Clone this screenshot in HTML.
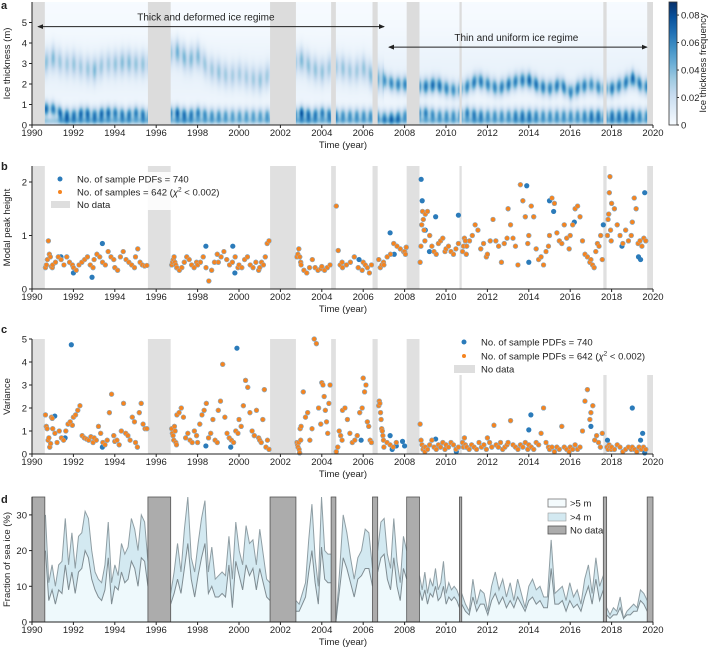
<!DOCTYPE html>
<html><head><meta charset="utf-8">
<style>
html,body{margin:0;padding:0;background:#fff;}
#wrap{position:relative;width:713px;height:650px;overflow:hidden;font-family:"Liberation Sans",Arial,sans-serif;}
#heat{position:absolute;left:32px;top:2px;}
svg{position:absolute;left:0;top:0;}
text{font-family:"Liberation Sans",Arial,sans-serif;fill:#222;}
</style></head>
<body>
<div id="wrap">
<canvas id="heat" width="621" height="123"></canvas>
<svg id="svg" width="713" height="650" xmlns="http://www.w3.org/2000/svg"></svg>
</div>
<script>
// ---------- data ----------
const gapStart = [1990.0,1995.6,2001.5,2004.45,2006.45,2008.1,2010.65,2017.6,2019.72];
const gapEnd   = [1990.62,1996.7,2002.75,2004.68,2006.7,2008.72,2010.76,2017.76,2020.0];
// panel a (half-year resolution from 1990.0)
const ridgeH = [3.0,3.0,3.3,3.0,3.0,2.8,2.7,3.0,3.0,3.1,3.0,3.0,3.0,3.5,3.6,3.2,3.4,2.8,2.6,2.4,2.5,2.3,2.2,2.5,2.5,3.0,3.2,2.8,2.6,2.9,2.8,2.6,2.8,2.3,2.2,2.0,2.0,1.9,1.9,2.0,1.8,1.7,1.9,2.2,2.0,1.8,2.0,2.2,2.2,1.9,1.8,2.0,1.6,1.9,2.0,1.8,1.8,2.0,2.3,1.9];
const ridgeI = [0.03,0.03,0.035,0.025,0.03,0.025,0.035,0.025,0.03,0.035,0.03,0.03,0.025,0.025,0.04,0.035,0.035,0.025,0.03,0.025,0.025,0.025,0.03,0.025,0.025,0.03,0.035,0.03,0.03,0.025,0.03,0.025,0.03,0.035,0.05,0.055,0.055,0.055,0.06,0.065,0.055,0.05,0.055,0.06,0.055,0.055,0.06,0.055,0.065,0.06,0.055,0.06,0.055,0.06,0.05,0.055,0.06,0.055,0.065,0.055];
const lowH = [0.7,0.8,0.8,0.5,0.5,0.6,0.5,0.6,0.6,0.5,0.6,0.5,0.6,0.6,0.6,0.5,0.6,0.5,0.5,0.5,0.5,0.5,0.5,0.5,0.5,0.5,0.6,0.5,0.6,0.5,0.5,0.5,0.5,0.5,0.4,0.4,0.5,0.6,0.6,0.5,0.5,0.5,0.6,0.5,0.5,0.5,0.5,0.5,0.5,0.5,0.5,0.5,0.5,0.5,0.5,0.5,0.5,0.5,0.5,0.5];
const lowI = [0.06,0.07,0.06,0.07,0.06,0.07,0.06,0.07,0.06,0.06,0.06,0.06,0.05,0.05,0.07,0.06,0.06,0.05,0.05,0.045,0.045,0.045,0.045,0.05,0.05,0.05,0.075,0.06,0.06,0.06,0.05,0.05,0.05,0.05,0.05,0.06,0.05,0.06,0.06,0.05,0.05,0.05,0.06,0.06,0.05,0.05,0.05,0.06,0.06,0.05,0.05,0.05,0.05,0.05,0.06,0.06,0.06,0.06,0.06,0.05];
const cbTicks = [0,0.02,0.04,0.06,0.08];
const yearTicks = [1990,1992,1994,1996,1998,2000,2002,2004,2006,2008,2010,2012,2014,2016,2018,2020];

// panel b: orange segments
const bStart = [1990.65,1991.0,1992.0,1993.0,1994.0,1995.0,1996.75,1997.0,1998.0,1999.0,2000.0,2001.0,2002.8,2003.0,2004.0,2004.7,2005.0,2006.0,2006.75,2007.0,2008.0,2008.75,2009.0,2010.0,2010.8,2011.0,2012.0,2013.0,2014.0,2015.0,2016.0,2017.0,2017.8,2018.0,2019.0];
const bEnd   = [1990.98,1991.95,1992.95,1993.95,1994.95,1995.55,1996.98,1997.95,1998.95,1999.95,2000.95,2001.45,2002.98,2003.95,2004.4,2004.98,2005.95,2006.4,2006.98,2007.95,2008.08,2008.98,2009.95,2010.6,2010.98,2011.95,2012.95,2013.95,2014.95,2015.95,2016.95,2017.55,2017.98,2018.95,2019.65];
const bVals = [
[0.4,0.45,0.55,0.9,0.65,0.6,0.42,0.4],[0.45,0.5,0.6,0.55,0.45,0.6,0.5,0.45],[0.4,0.35,0.45,0.5,0.55,0.6,0.45,0.4],
[0.55,0.65,0.6,0.5,0.45,0.7,0.6,0.55],[0.4,0.35,0.6,0.7,0.55,0.5,0.45,0.4],[0.6,0.75,0.5,0.45,0.43,0.44],
[0.45,0.5,0.55,0.6,0.5,0.45,0.4],[0.4,0.35,0.4,0.5,0.6,0.55,0.45,0.4,0.5],[0.45,0.5,0.6,0.4,0.15,0.35,0.5,0.65],
[0.5,0.6,0.7,0.55,0.45,0.5,0.6,0.4],[0.45,0.4,0.55,0.6,0.45,0.4,0.5,0.35],[0.4,0.5,0.45,0.6,0.85,0.9],
[0.6,0.65,0.75,0.6,0.5],[0.45,0.35,0.3,0.4,0.55,0.4,0.35,0.38],[0.42,0.35,0.4,0.45],[1.55,0.72,0.45,0.5],
[0.4,0.45,0.5,0.6,0.4,0.35],[0.5,0.45,0.4,0.3,0.45],[0.55,0.4,0.45,0.5],[0.45,0.6,0.65,0.85,0.8,0.75,0.7],
[0.7,0.65,0.78],[0.5,0.8,1.2,1.45,1.3,1.1,0.9],[1.4,1.45,1.0,0.8,0.7,0.65,0.85,0.9,0.95,0.7],[0.75,0.8,0.7,0.65,0.75,0.85],
[0.7,0.8,0.95,0.9,0.65],[0.8,0.9,1.0,1.2,1.1,0.75,0.85,0.6],[0.65,0.9,1.3,0.9,0.8,0.5,0.85,0.95],
[1.5,1.2,0.95,0.8,0.45,1.95,1.65,1.35,0.85],[1.0,1.55,1.35,0.75,0.55,0.6,0.45,0.7,0.8],[1.0,1.7,1.6,1.05,0.9,0.85,1.2,0.95,0.75],
[1.0,1.2,1.5,1.55,1.35,0.9,0.65,0.6,0.5],[0.55,0.45,0.4,0.7,0.85,0.8,1.0,0.55],[1.0,1.3,1.4,1.8,2.1,1.1,0.9],
[1.6,1.5,1.2,1.0,0.85,1.1,0.9,1.0],[1.25,1.7,1.5,0.85,0.9,0.8,0.95,0.9]];
const bBlueT = [1991.4,1992.0,1992.9,1993.4,1998.4,1999.7,1999.8,2007.3,2007.5,2008.8,2008.85,2009.0,2009.5,2010.6,2013.9,2014.0,2015.0,2015.2,2016.2,2017.6,2018.5,2019.3,2019.4,2019.6,2005.8,2009.2];
const bBlueV = [0.6,0.3,0.22,0.85,0.8,0.8,0.3,1.05,0.65,2.05,1.65,1.1,1.35,1.38,1.93,0.5,1.65,1.45,1.25,1.2,0.8,0.6,0.55,1.8,0.55,0.7];

// panel c
const cStart = [1990.65,1991.0,1992.0,1993.0,1994.0,1995.0,1996.75,1997.0,1998.0,1999.0,2000.0,2001.0,2002.8,2003.0,2004.0,2004.7,2005.0,2006.0,2006.75,2007.0,2008.75,2009.0,2010.0,2010.8,2011.0,2012.0,2013.0,2014.0,2015.0,2016.0,2017.0,2017.78,2018.0,2019.0];
const cEnd   = [1990.98,1991.95,1992.95,1993.95,1994.95,1995.55,1996.98,1997.95,1998.95,1999.95,2000.95,2001.45,2002.98,2003.95,2004.4,2004.98,2005.95,2006.4,2006.98,2007.6,2008.98,2009.95,2010.6,2010.98,2011.95,2012.95,2013.95,2014.95,2015.95,2016.95,2017.55,2017.98,2018.95,2019.65];
const cVals = [
[1.7,1.2,1.1,0.6,0.7,0.3,0.45,1.6,1.55],[1.1,0.9,0.5,1.0,0.7,0.6,1.0,1.3,1.4,1.25],[1.6,1.7,1.9,2.1,0.8,0.7,0.65,0.6,0.75,0.5],
[0.7,0.6,1.2,0.9,0.5,0.4,0.6,1.8,2.6,0.8],[0.55,0.6,0.4,1.0,2.2,0.9,0.8,0.6,1.6,1.4],[0.5,0.3,1.8,2.2,1.3,1.1,1.1],
[1.1,0.9,0.8,0.6,1.2,1.0,0.5,0.4],[1.7,1.8,2.0,1.6,0.7,0.9,0.6,0.5,1.0,0.8],[0.5,1.3,1.7,1.9,2.2,0.7,0.9,1.5,0.6,0.5],
[1.9,2.3,3.9,1.6,0.9,0.7,0.6,0.5,1.0,0.9],[1.5,1.2,2.1,3.2,2.9,1.8,1.0,0.8,1.9,0.7],[0.6,0.5,1.5,2.8,0.3,0.6,0.2],
[0.5,0.4,0.3,0.5,0.2,0.05,1.1,0.6],[1.2,2.7,1.6,1.8,0.6,1.1,5.0,4.8,2.0,1.3],[3.1,3.0,2.5,1.9,1.4,0.9,2.2,3.0],
[0.1,0.3,1.0,0.8,0.6],[1.9,2.0,1.5,0.9,0.5,0.6,0.8,1.8,2.0],[3.3,2.7,3.0,1.4,1.2,0.6,0.5],
[2.1,2.3,2.2,1.8,1.5,1.1,1.0,0.8,0.6],[0.3,0.5,0.4,0.3,0.5],[1.3,0.6,0.4,0.2,0.3,0.1],
[0.3,0.2,0.4,0.6,0.3,0.2,0.4,0.3,0.5,0.2],[0.4,0.3,0.5,0.4,0.2,0.3],[0.5,0.3,0.7,0.4,0.3],
[0.3,0.2,0.4,0.3,0.2,0.5,0.3,0.4,0.2],[0.7,0.5,0.3,1.25,0.4,0.3,0.5,0.2,0.3,0.4],[0.5,1.45,0.4,0.3,0.2,0.4,0.3,0.5,0.2],
[0.4,0.3,0.2,0.5,0.4,0.9,2.0,0.5,0.3],[0.2,0.3,0.1,0.3,0.2,1.2,0.3,0.2,0.1],[0.3,0.2,0.4,0.2,0.3,1.0,2.3,2.8,1.5],
[1.8,2.1,0.6,0.8,0.5,0.3,0.9],[0.3,0.2,0.4,0.3,0.2],[0.3,0.2,0.4,0.3,0.1,0.2,0.3,0.2],[0.3,0.2,0.1,0.3,0.2,0.3,0.2]];
const cBlueT = [1991.9,1999.9,1991.1,1991.6,1993.4,1998.4,1999.6,2007.3,2007.4,2007.6,2007.9,2008.0,2009.5,2010.5,2014.0,2014.1,2017.0,2017.8,2019.0,2019.4,2019.5,2019.6,2005.9];
const cBlueV = [4.75,4.6,1.65,0.7,0.3,0.35,0.3,0.8,0.2,0.35,0.55,0.35,0.65,0.1,1.05,1.7,1.2,0.6,2.0,0.6,0.9,0.05,0.6];

// panel d
const dStart = [1990.65,1996.7,2002.75,2004.68,2006.7,2008.72,2010.76,2017.76];
const dEnd   = [1995.6,2001.5,2004.45,2006.45,2008.1,2010.65,2017.6,2019.72];
const dUpper = [
[30,11,16,10,16,17,29,16,25,15,24,25,31,29,20,14,12,11,16,28,11,16,13,22,19,21,29,26,20,30,28,17],
[8,14,22,14,26,35,18,14,22,29,34,14,21,12,13,14,13,24,12,28,20,16,27,22,23,16,26,19,12,11],
[6,5,8,11,23,33,18,10,35,20,19,19],
[0,14,30,25,18,12,18,20,26,25,15],
[20,28,29,19,15,29,17,11,24,20],
[13,9,14,8,12,10,15,9,11,17,8,11,9,10,9,7],
[8,5,3,12,5,9,8,3,10,14,9,12,7,11,6,12,8,4,10,12,9,10,7,7,23,8,9,10,6,11,7,9,5,12,16,8,18,10,13],
[4,2,4,3,7,1,3,4,5,4,9,8,6]];
const dLower = [
[20,6,9,5,9,8,16,9,14,8,14,15,20,18,12,9,7,6,9,18,5,10,9,14,11,12,17,15,10,18,17,10],
[5,8,12,8,15,22,12,7,13,18,22,8,10,7,7,8,7,16,4,17,13,9,16,13,15,9,15,11,7,6],
[3,3,5,7,14,20,11,5,21,12,11,11],
[0,9,18,15,11,7,12,13,15,15,10],
[14,18,19,12,9,18,10,6,15,12],
[9,6,9,5,8,7,10,6,7,10,5,7,6,7,6,4],
[5,3,2,7,3,5,5,2,6,8,5,7,4,6,4,7,5,3,6,7,5,6,4,4,15,5,5,6,3,6,4,5,3,7,10,5,12,6,9],
[2,1,2,2,4,1,2,2,3,3,6,5,3]];

// ---------- scales ----------
const X = t => 32 + (t-1990)*621/30;
const Ya = v => 125 - v*20.5;
const Yb = v => 289 - v*53.5;
const Yc = v => 454 - v*23;
const Yd = v => 622 - v*3.57;
const NS = 'http://www.w3.org/2000/svg';
const svg = document.getElementById('svg');
function mk(tag, attrs, parent){
  const e = document.createElementNS(NS, tag);
  for (const k in attrs) e.setAttribute(k, attrs[k]);
  (parent||svg).appendChild(e); return e;
}
function txt(s, x, y, size, anchor, parent){
  const e = mk('text', {x:x, y:y, 'font-size':size, 'text-anchor':anchor||'start'}, parent);
  e.textContent = s; return e;
}

// ---------- heatmap ----------
const stops = [[247,251,255],[222,235,247],[198,219,239],[158,202,225],[107,174,214],[66,146,198],[33,113,181],[8,81,156],[8,48,107]];
function cmap(v){
  let t = Math.max(0, Math.min(1, v/0.09))*(stops.length-1);
  const i = Math.min(stops.length-2, Math.floor(t)), f = t-i;
  return stops[i].map((c,k)=>Math.round(c+(stops[i+1][k]-c)*f));
}
(function(){
  const cv = document.getElementById('heat'), ctx = cv.getContext('2d');
  const img = ctx.createImageData(621,123);
  for (let px=0; px<621; px++){
    const t = px*30/621;
    const fi = t*2; let i0 = Math.floor(fi), f = fi-i0; const i1 = Math.min(59,i0+1); i0=Math.min(59,i0);
    const rh = ridgeH[i0]*(1-f)+ridgeH[i1]*f, ri = ridgeI[i0]*(1-f)+ridgeI[i1]*f;
    const lh = lowH[i0]*(1-f)+lowH[i1]*f, li = lowI[i0]*(1-f)+lowI[i1]*f;
    const flick = 0.75 + 0.25*Math.cos(t*2*Math.PI*3);
    const rs = (1990+t) < 2007 ? 0.6 : 0.4;
    for (let py=0; py<123; py++){
      const h = (123-py)/20.5;
      let v = 0.006*Math.exp(-Math.pow((h-2.5)/2,2))
        + ri*flick*Math.exp(-Math.pow((h-rh)/rs,2))
        + li*flick*Math.exp(-Math.pow((h-lh)/0.35,2))
        + 0.45*li*Math.exp(-Math.pow((h-0.2)/0.2,2));
      const c = cmap(v), o=(py*621+px)*4;
      img.data[o]=c[0]; img.data[o+1]=c[1]; img.data[o+2]=c[2]; img.data[o+3]=255;
    }
  }
  ctx.putImageData(img,0,0);
})();

// ---------- common axis helpers ----------
function xAxis(y, name){
  const g = mk('g', {});
  
  
  mk('line', {x1:32, x2:653, y1:y, y2:y, stroke:'#222', 'stroke-width':1}, g);
  yearTicks.forEach(yr=>{
    mk('line', {x1:X(yr), x2:X(yr), y1:y, y2:y+3, stroke:'#222'}, g);
    txt(String(yr), X(yr), y+11, 9.5, 'middle', g);
  });
  txt('Time (year)', 343, y+23, 9.5, 'middle', g);
}
function yAxis(top, bottom, ticks, fy, title, name){
  const g = mk('g', {});
  
  
  mk('line', {x1:32, x2:32, y1:top, y2:bottom, stroke:'#222'}, g);
  ticks.forEach(v=>{
    mk('line', {x1:29, x2:32, y1:fy(v), y2:fy(v), stroke:'#222'}, g);
    txt(String(v), 27, fy(v)+3.5, 9.5, 'end', g);
  });
  const cy = (top+bottom)/2;
  const t = txt(title, 10, cy, 9.5, 'middle', g);
  t.setAttribute('transform', 'rotate(-90 10 '+cy+')');
}
function gaps(top, bottom, fill, stroke, name){
  gapStart.forEach((s,i)=>{
    const r = mk('rect', {x:X(s), y:top, width:X(gapEnd[i])-X(s), height:bottom-top, fill:fill, stroke:stroke||'none', 'stroke-width':0.8});
    
    
  });
}
function panelLabel(s, y){
  const t = txt(s, 1, y, 11, 'start');
  t.setAttribute('font-weight', 'bold');
  
  
}

// ---------- panel a ----------
gaps(2, 125, '#dcdcdc', null, 'no-data-band-a');
xAxis(125, 'x-axis-a');
yAxis(2, 125, [0,1,2,3,4,5], Ya, 'Ice thickness (m)', 'y-axis-a');
panelLabel('a', 9);
mk('defs', {}).innerHTML = '<marker id="ah" markerWidth="6" markerHeight="6" refX="5" refY="3" orient="auto-start-reverse"><path d="M0,0.5 L6,3 L0,5.5 z" fill="#222"/></marker>';
let ar = mk('line', {x1:X(1990.3), x2:X(2007.0), y1:Ya(4.8), y2:Ya(4.8), stroke:'#222', 'stroke-width':1, 'marker-start':'url(#ah)', 'marker-end':'url(#ah)'});
 
let tt = txt('Thick and deformed ice regime', X(1998.4), Ya(4.8)-6, 10, 'middle');
 
ar = mk('line', {x1:X(2007.25), x2:X(2019.7), y1:Ya(3.8), y2:Ya(3.8), stroke:'#222', 'stroke-width':1, 'marker-start':'url(#ah)', 'marker-end':'url(#ah)'});
 
tt = txt('Thin and uniform ice regime', X(2013.4), Ya(3.8)-6, 10, 'middle');
 
// colorbar
(function(){
  const g = mk('g', {});
  
  
  const lg = mk('linearGradient', {id:'cbg', x1:0, y1:1, x2:0, y2:0}, mk('defs',{},g));
  stops.forEach((c,i)=>mk('stop', {offset:(i/(stops.length-1)), 'stop-color':'rgb('+c.join(',')+')'}, lg));
  mk('rect', {x:669, y:2, width:8, height:123, fill:'url(#cbg)', stroke:'#333', 'stroke-width':0.8}, g);
  const cy = v => 125 - v/0.0895*123;
  cbTicks.forEach(v=>{
    mk('line', {x1:677, x2:679, y1:cy(v), y2:cy(v), stroke:'#333'}, g);
    txt(String(v), 681, cy(v)+3.5, 9.5, 'start', g);
  });
  const t = txt('Ice thickness frequency', 706, 63, 9.5, 'middle', g);
  t.setAttribute('transform', 'rotate(-90 706 63)');
})();

// ---------- scatter helper ----------
function scatter(starts, ends, vals, blueT, blueV, fy, top, nm){
  const g = mk('g', {});
  
  
  const clipY = v => Math.max(top, fy(v));
  starts.forEach((s,i)=>{
    const n = vals[i].length;
    vals[i].forEach((v,j)=>{
      const t = s + (n>1 ? (ends[i]-s)*j/(n-1) : 0);
      const c = mk('circle', {cx:X(t), cy:clipY(v), r:2.6, fill:'#2b7bba'}, g);
      
      
    });
  });
  blueT.forEach((t,i)=>{
    const c = mk('circle', {cx:X(t), cy:clipY(blueV[i]), r:2.6, fill:'#2b7bba'}, g);
    
    
  });
  starts.forEach((s,i)=>{
    const n = vals[i].length;
    vals[i].forEach((v,j)=>{
      const t = s + (n>1 ? (ends[i]-s)*j/(n-1) : 0);
      const c = mk('circle', {cx:X(t), cy:clipY(v), r:2.3, fill:'#f5841f', stroke:'#9db4c6', 'stroke-width':0.5}, g);
      
      
    });
  });
}

// ---------- panel b ----------
gaps(166, 289, '#e0e0e0', null, 'no-data-band-b');
scatter(bStart, bEnd, bVals, bBlueT, bBlueV, Yb, 166, 'panel-b');
xAxis(289, 'x-axis-b');
yAxis(166, 289, [0,1,2], Yb, 'Modal peak height', 'y-axis-b');
panelLabel('b', 170);
(function(){
  const g = mk('g', {});
  
  
  mk('rect', {x:48, y:172, width:132, height:38, fill:'#fff', opacity:0.85}, g);
  mk('circle', {cx:60, cy:179, r:2.5, fill:'#2b7bba'}, g);
  txt('No. of sample PDFs = 740', 77, 182.5, 9.5, 'start', g);
  mk('circle', {cx:60, cy:192, r:2, fill:'#f5841f'}, g);
  const t = txt('', 77, 195.5, 9.5, 'start', g);
  t.innerHTML = 'No. of samples = 642 (<tspan font-style="italic">χ</tspan><tspan font-size="6.5" dy="-4">2</tspan><tspan dy="4"> &lt; 0.002)</tspan>';
  mk('rect', {x:51, y:201, width:19, height:7, fill:'#dedede'}, g);
  txt('No data', 77, 208, 9.5, 'start', g);
})();

// ---------- panel c ----------
gaps(339, 454, '#e0e0e0', null, 'no-data-band-c');
scatter(cStart, cEnd, cVals, cBlueT, cBlueV, Yc, 339, 'panel-c');
xAxis(454, 'x-axis-c');
yAxis(339, 454, [0,1,2,3,4,5], Yc, 'Variance', 'y-axis-c');
panelLabel('c', 333);
(function(){
  const g = mk('g', {});
  
  
  mk('rect', {x:450, y:335, width:205, height:40, fill:'#fff'}, g);
  mk('circle', {cx:464, cy:342, r:2.5, fill:'#2b7bba'}, g);
  txt('No. of sample PDFs = 740', 481, 345.5, 9.5, 'start', g);
  mk('circle', {cx:464, cy:356, r:2, fill:'#f5841f'}, g);
  const t = txt('', 481, 359.5, 9.5, 'start', g);
  t.innerHTML = 'No. of sample PDFs = 642 (<tspan font-style="italic">χ</tspan><tspan font-size="6.5" dy="-4">2</tspan><tspan dy="4"> &lt; 0.002)</tspan>';
  mk('rect', {x:454, y:365, width:21, height:8, fill:'#dedede'}, g);
  txt('No data', 481, 372.5, 9.5, 'start', g);
})();

// ---------- panel d ----------
(function(){
  const g = mk('g', {});
  
  
  dStart.forEach((s,i)=>{
    const up = dUpper[i], lo = dLower[i], n = up.length;
    const ts = up.map((_,j)=> s + (dEnd[i]-s)*j/(n-1));
    const upPts = ts.map((t,j)=>X(t)+','+Yd(up[j]));
    const loPts = ts.map((t,j)=>X(t)+','+Yd(lo[j]));
    const a4 = mk('polygon', {points: upPts.concat(loPts.slice().reverse()).join(' '), fill:'#d3e9f1'}, g);
    
    
    const a5 = mk('polygon', {points: loPts.concat([X(ts[n-1])+','+Yd(0), X(ts[0])+','+Yd(0)]).join(' '), fill:'#eef9fc'}, g);
    
    
    const l4 = mk('polyline', {points: upPts.join(' '), fill:'none', stroke:'#8f9ea4', 'stroke-width':1}, g);
    
    
    const l5 = mk('polyline', {points: loPts.join(' '), fill:'none', stroke:'#7f8c92', 'stroke-width':1}, g);
    
    
  });
})();
gaps(497, 622, '#acacac', '#555', 'no-data-band-d');
xAxis(622, 'x-axis-d');
yAxis(497, 622, [0,10,20,30], Yd, 'Fraction of sea ice (%)', 'y-axis-d');
panelLabel('d', 503);
(function(){
  const g = mk('g', {});
  
  
  mk('rect', {x:548, y:499, width:18, height:8, fill:'#f4fbfd', stroke:'#777', 'stroke-width':0.8}, g);
  txt('>5 m', 570, 506.5, 9.5, 'start', g);
  mk('rect', {x:548, y:513, width:18, height:8, fill:'#d3e9f1', stroke:'#999', 'stroke-width':0.6}, g);
  txt('>4 m', 570, 520.5, 9.5, 'start', g);
  mk('rect', {x:548, y:526, width:18, height:8, fill:'#acacac', stroke:'#555', 'stroke-width':0.8}, g);
  txt('No data', 570, 533.5, 9.5, 'start', g);
})();
</script>
</body></html>
